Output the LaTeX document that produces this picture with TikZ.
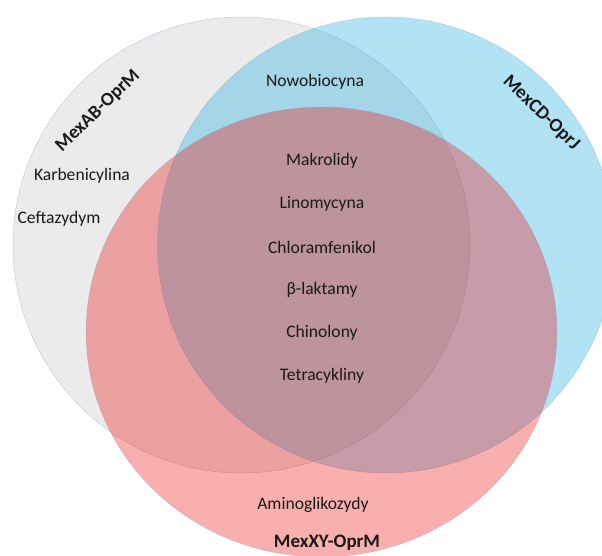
\documentclass[tikz,border=0pt]{standalone}
\usepackage{fontspec}
\setmainfont{Carlito}
\usepackage{xcolor}
\definecolor{mexgray}{RGB}{235,235,235}
\definecolor{mexblue}{RGB}{35,175,226}
\definecolor{mexred}{RGB}{240,12,12}
\definecolor{mexline}{RGB}{140,160,200}
\definecolor{mextext}{RGB}{25,25,25}

\begin{document}
\begin{tikzpicture}[x=0.5pt, y=-0.5pt,
    pump/.style={draw=mexline, draw opacity=0.45, line width=0.25pt},
    drug/.style={font=\fontsize{8.8}{10}\selectfont, text=mextext, inner sep=1pt},
    pumpname/.style={font=\fontsize{9.5}{11}\selectfont\bfseries, text=mextext, inner sep=1pt}]
  \useasboundingbox (0,0) rectangle (602,556);
  \clip (0,0) rectangle (602,556);

  % Circle 1: MexAB-OprM (grey, left)
  \draw[pump, fill=mexgray] (241.5,245) ellipse [x radius=228.5, y radius=228];

  % Circle 2: MexCD-OprJ (blue, right)
  \draw[pump, fill=mexblue, fill opacity=0.35] (386,245) ellipse [x radius=228.5, y radius=228];

  % Circle 3: MexXY-OprM (red, bottom)
  \draw[pump, fill=mexred, fill opacity=0.33] (321.5,332) ellipse [x radius=235.5, y radius=225];

  % Pump names
  \node[pumpname, rotate=44] (mexab) at (98,111) {MexAB-OprM};
  \node[pumpname, rotate=-44] (mexcd) at (541,113) {MexCD-OprJ};
  \node[pumpname] (mexxy) at (327,543) {MexXY-OprM};

  % Only MexAB-OprM
  \node[drug] (karbenicylina) at (82,176) {Karbenicylina};
  \node[drug] (ceftazydym) at (59,219) {Ceftazydym};

  % MexAB-OprM and MexCD-OprJ
  \node[drug] (nowobiocyna) at (315,82) {Nowobiocyna};

  % All three pumps
  \foreach \drugname [count=\i] in {Makrolidy, Linomycyna, Chloramfenikol, β-laktamy, Chinolony, Tetracykliny}
    \node[drug] (common\i) at (322,118+43*\i) {\drugname};

  % Only MexXY-OprM
  \node[drug] (aminoglikozydy) at (313,505) {Aminoglikozydy};
\end{tikzpicture}
\end{document}
